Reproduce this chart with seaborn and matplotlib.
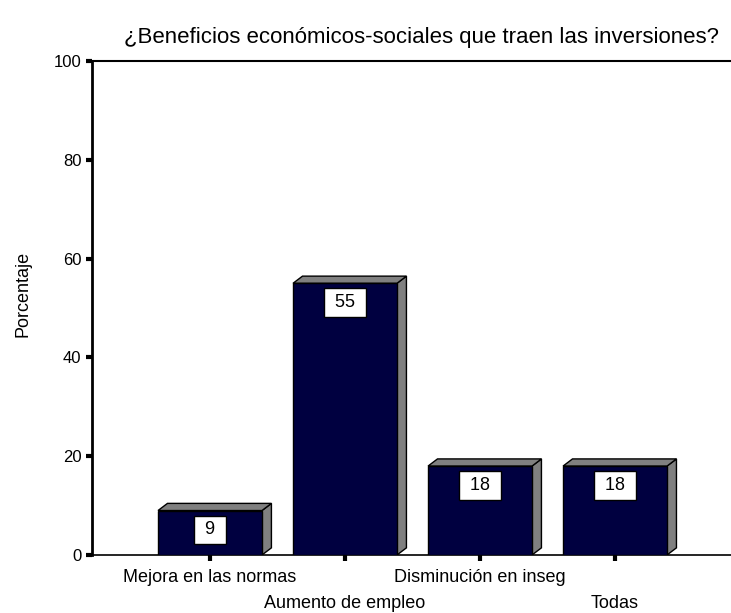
import numpy as np
import pandas as pd
import matplotlib
matplotlib.use('Agg')
import matplotlib.pyplot as plt
import matplotlib.transforms as mtransforms
import seaborn as sns
from matplotlib.patches import Polygon

categorias = ['Mejora en las normas', 'Aumento de empleo', 'Disminución en inseg', 'Todas']
porcentaje = [9, 55, 18, 18]
yticks = [0, 20, 40, 60, 80, 100]
titulo = '¿Beneficios económicos-sociales que traen las inversiones?'

df = pd.DataFrame({'categoria': categorias, 'porcentaje': porcentaje})

sns.set_style('white')
plt.rcParams['font.family'] = ['Liberation Sans', 'DejaVu Sans']
plt.rcParams['text.color'] = 'black'
plt.rcParams['axes.labelcolor'] = 'black'
plt.rcParams['xtick.color'] = 'black'
plt.rcParams['ytick.color'] = 'black'

fig = plt.figure(figsize=(7.31, 6.13), dpi=100)
ax = fig.add_axes([92 / 731, 58 / 613, (731 - 92) / 731, 494 / 613])

sns.barplot(data=df, x='categoria', y='porcentaje', color='#000040', saturation=1,
            width=0.77, edgecolor='black', linewidth=1, ax=ax, zorder=3)

# fake 3d: side and top faces
dx, dy = 0.07, 1.45
for p in list(ax.patches):
    x0, w, h = p.get_x(), p.get_width(), p.get_height()
    side = [(x0 + w, 0), (x0 + w + dx, dy), (x0 + w + dx, h + dy), (x0 + w, h)]
    top = [(x0, h), (x0 + dx, h + dy), (x0 + w + dx, h + dy), (x0 + w, h)]
    ax.add_patch(Polygon(side, closed=True, facecolor='#808080', edgecolor='black', lw=1, zorder=2))
    ax.add_patch(Polygon(top, closed=True, facecolor='#808080', edgecolor='black', lw=1, zorder=2))
    ax.annotate(' %d ' % round(h), (x0 + w / 2, h), xytext=(0, -14), textcoords='offset points',
                ha='center', va='center', fontsize=13, zorder=5,
                bbox=dict(boxstyle='square,pad=0.32', facecolor='white', edgecolor='black', lw=1))

ax.set_xlim(-0.874, 3.859)
ax.set_ylim(0, 100)
ax.set_yticks(yticks)
ax.set_yticklabels([str(v) for v in yticks], fontsize=12)
ax.set_xticks(range(len(categorias)))
ax.set_xticklabels(categorias, fontsize=13)

ax.tick_params(axis='both', direction='out', length=4, width=3, color='black',
               bottom=True, left=True, pad=3.5)
ax.tick_params(axis='x', pad=6)

# staggered category labels
bajar = mtransforms.ScaledTranslation(0, -0.265, fig.dpi_scale_trans)
for i, t in enumerate(ax.get_xticklabels()):
    if i % 2 == 1:
        t.set_transform(t.get_transform() + bajar)

ax.set_xlabel('')
ax.set_ylabel('Porcentaje', fontsize=13)
ax.yaxis.set_label_coords(-0.094, 0.528)
ax.set_title(titulo, fontsize=16, x=0.515, pad=13)

ax.spines['right'].set_visible(False)
ax.spines['left'].set_linewidth(2)
ax.spines['top'].set_linewidth(1.5)
ax.spines['bottom'].set_linewidth(1.2)
for s in ['left', 'top', 'bottom']:
    ax.spines[s].set_color('black')

fig.savefig('out.png', dpi=100)
